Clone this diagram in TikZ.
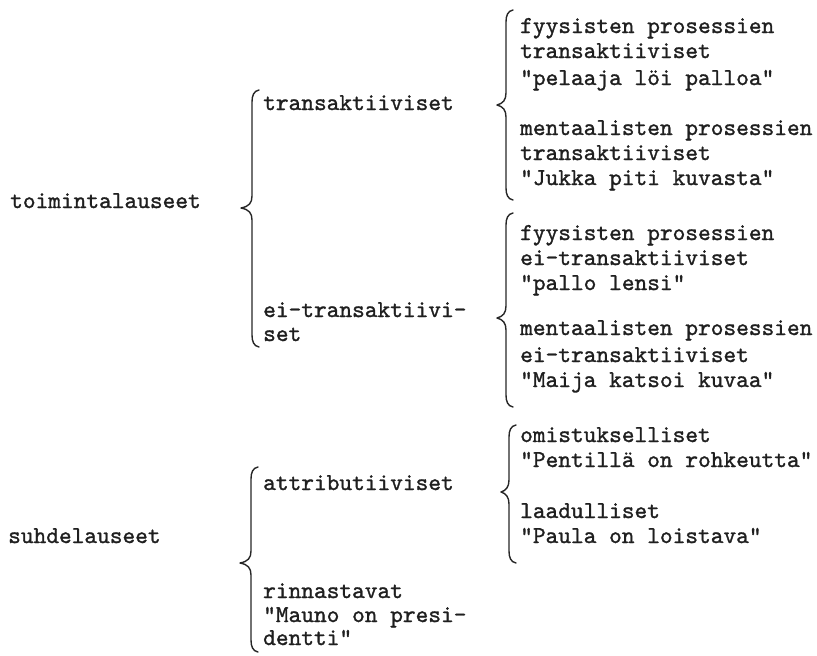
\documentclass[tikz,border=0pt]{standalone}
\usepackage{fontspec}
\newfontfamily\tw[FakeBold=1.2]{lmmono10-regular.otf}
\tikzset{
  txt/.style={anchor=base west, inner sep=0pt, font=\tw\fontsize{24.2}{26}\selectfont, text=black!88},
  bracestyle/.style={draw=black!85, line width=1.4pt, line join=round, line cap=round}
}
\newcommand\mybrace[5]{%
\draw[bracestyle] ({#1+7},#3) .. controls ({#1+2},{#3+1}) and (#1,{#3+5}) .. (#1,{#3+12})
  -- (#1,{#4-12}) .. controls (#1,{#4-5}) and ({#1-3},{#4-1.5}) .. (#2,#4)
  .. controls ({#1-3},{#4+1.5}) and (#1,{#4+5}) .. (#1,{#4+12})
  -- (#1,{#5-12}) .. controls (#1,{#5-5}) and ({#1+2},{#5-1}) .. ({#1+7},#5);}
\begin{document}
\begin{tikzpicture}[x=1pt,y=-1pt]
\useasboundingbox (0,0) rectangle (817,656);
% left column
\node[txt] (toim) at (10,208) {toimintalauseet};
\node[txt] (suhd) at (8,543) {suhdelauseet};
% middle column
\node[txt] (tr) at (263,110) {transaktiiviset};
\node[txt] (eitr1) at (263,317) {ei-transaktiivi-};
\node[txt] (eitr2) at (263,341) {set};
\node[txt] (attr) at (263,490) {attributiiviset};
\node[txt] (rinn1) at (263,598) {rinnastavat};
\node[txt] (rinn2) at (263,622) {"Mauno on presi-};
\node[txt] (rinn3) at (263,645) {dentti"};
% right column
\node[txt] (a1) at (520,33) {fyysisten prosessien};
\node[txt] (a2) at (520,58) {transaktiiviset};
\node[txt] (a3) at (520,85) {"pelaaja löi palloa"};
\node[txt] (b1) at (520,135) {mentaalisten prosessien};
\node[txt] (b2) at (520,160) {transaktiiviset};
\node[txt] (b3) at (520,185) {"Jukka piti kuvasta"};
\node[txt] (c1) at (520,240) {fyysisten prosessien};
\node[txt] (c2) at (520,265) {ei-transaktiiviset};
\node[txt] (c3) at (520,290) {"pallo lensi"};
\node[txt] (d1) at (520,335) {mentaalisten prosessien};
\node[txt] (d2) at (520,362) {ei-transaktiiviset};
\node[txt] (d3) at (520,387) {"Maija katsoi kuvaa"};
\node[txt] (e1) at (520,442) {omistukselliset};
\node[txt] (e2) at (520,467) {"Pentillä on rohkeutta"};
\node[txt] (f1) at (520,518) {laadulliset};
\node[txt] (f2) at (520,543) {"Paula on loistava"};
% braces
\mybrace{252}{241}{90}{208}{347}
\mybrace{251}{240}{467}{563}{652}
\mybrace{506}{497}{10}{105}{200}
\mybrace{506}{497}{213}{318}{407}
\mybrace{509}{501}{425}{492}{563}
\end{tikzpicture}
\end{document}
